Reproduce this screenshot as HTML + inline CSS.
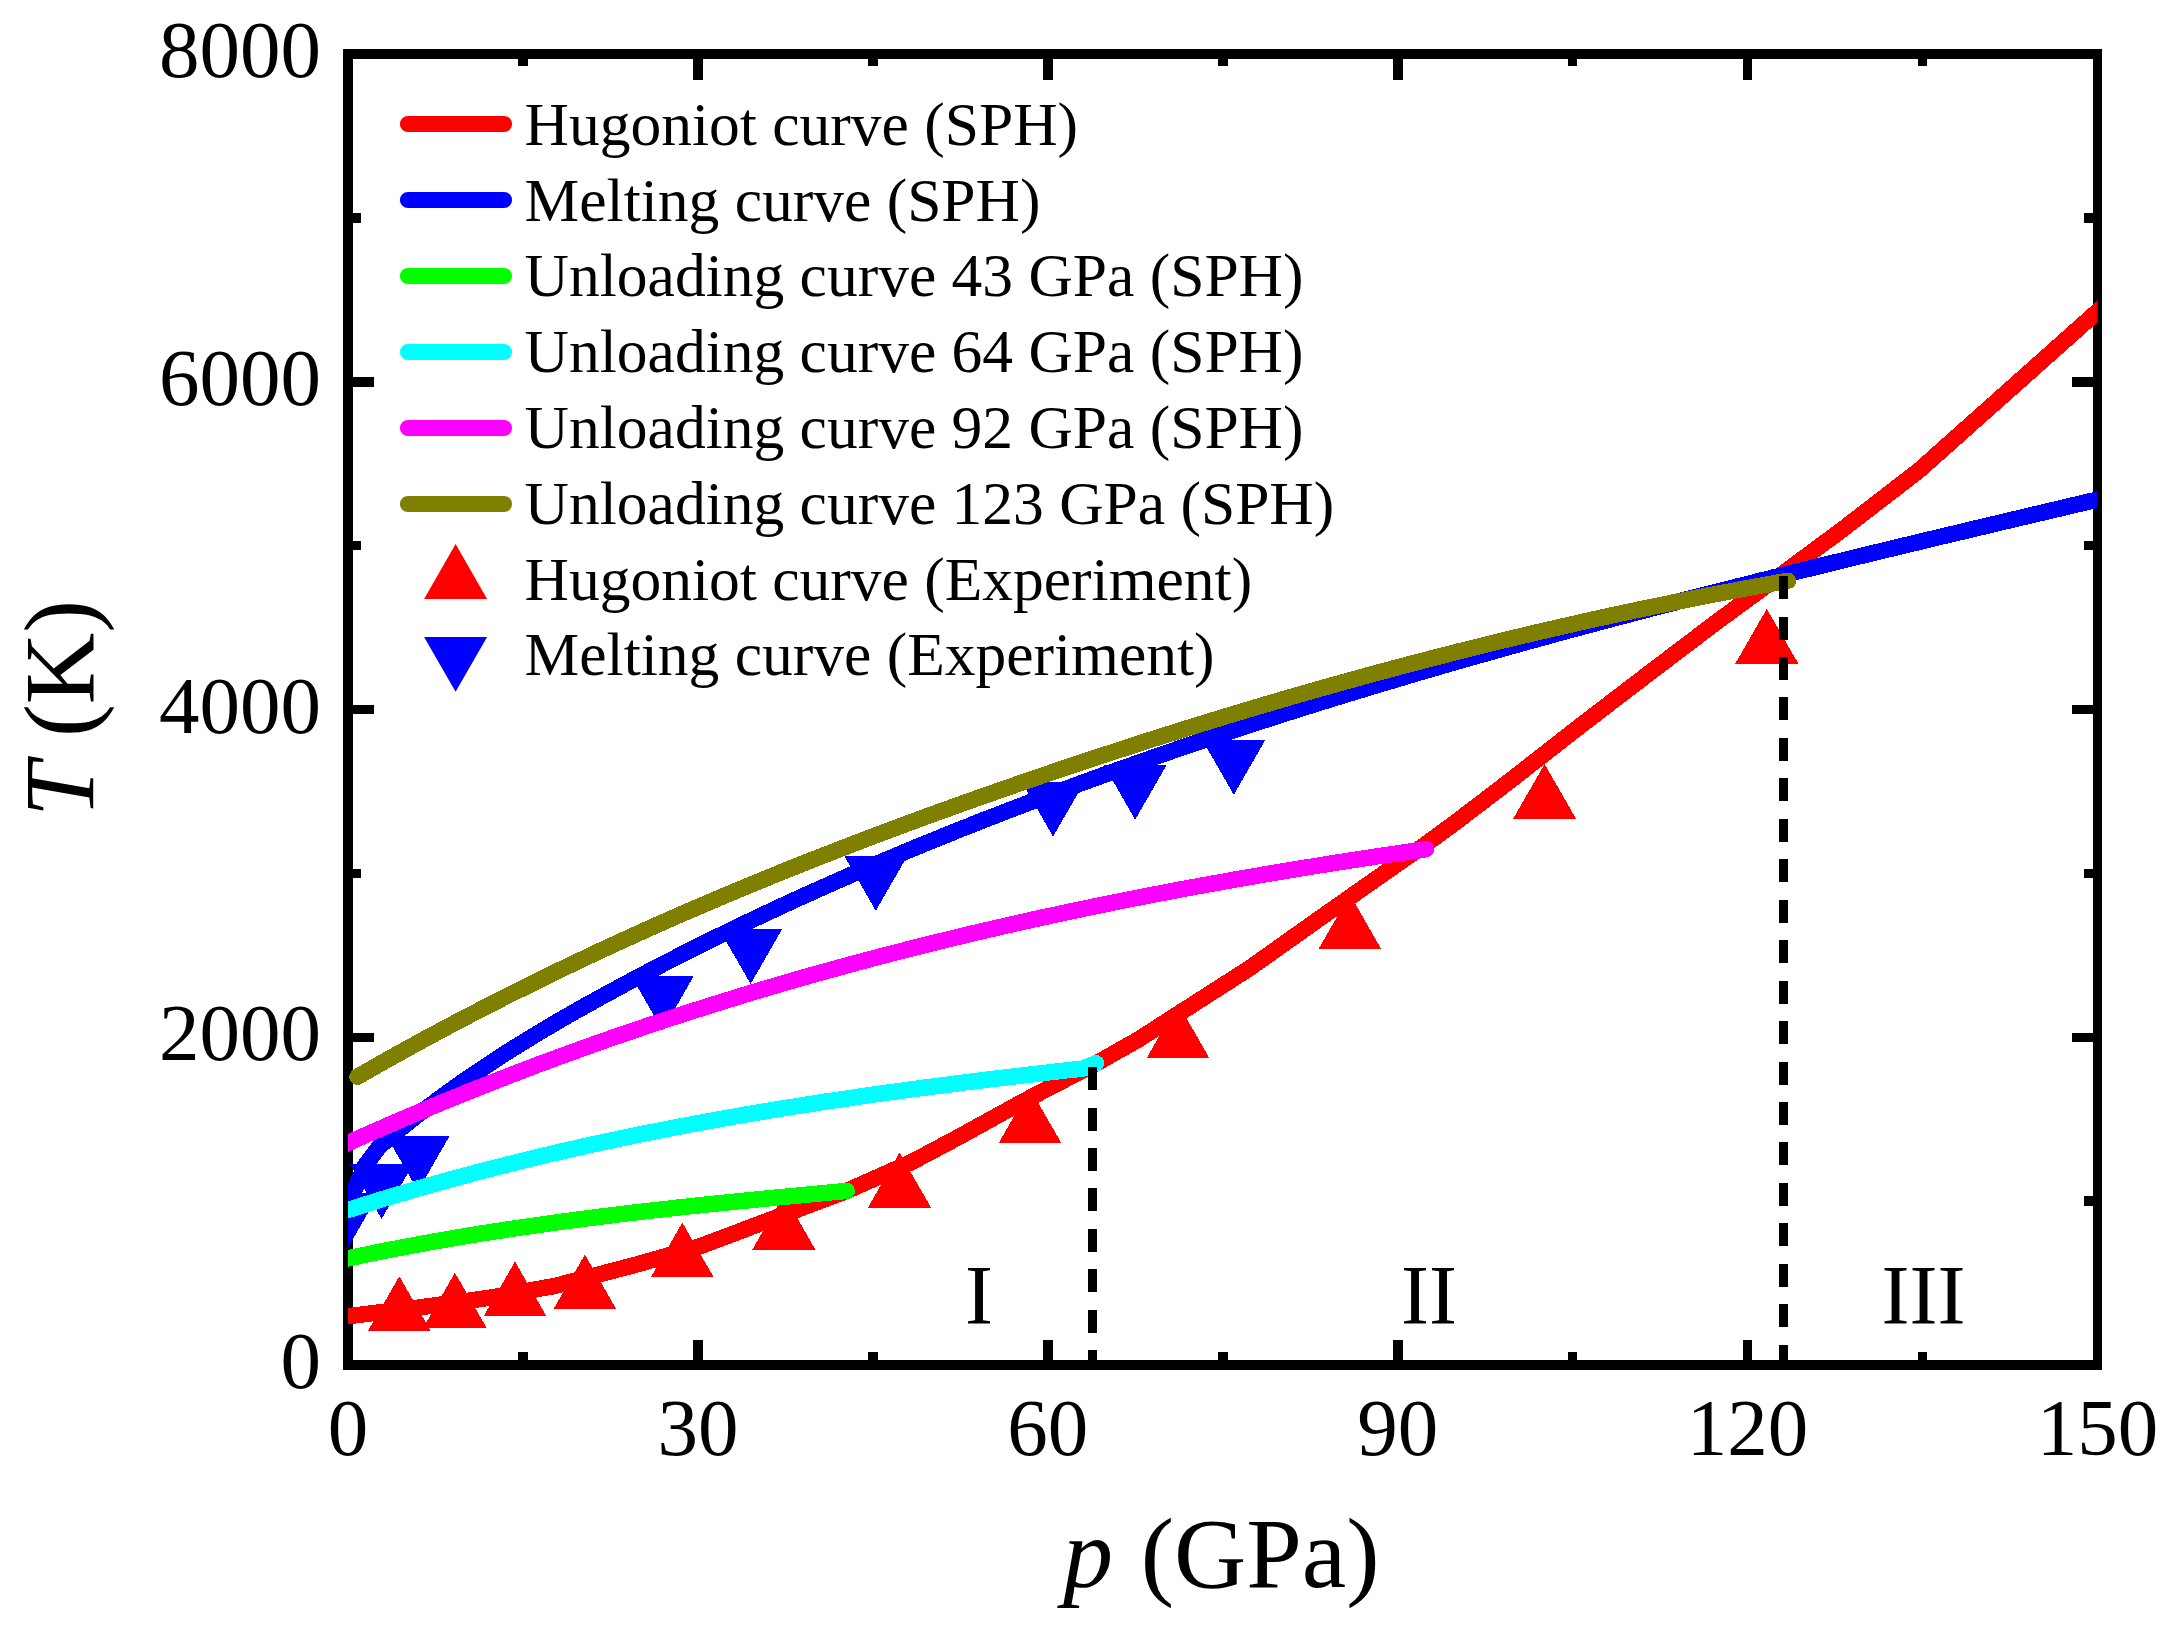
<!DOCTYPE html>
<html lang="en">
<head>
<meta charset="utf-8">
<title>Hugoniot, melting and unloading curves</title>
<style>
html,body{margin:0;padding:0;background:#fff;}
body{width:2171px;height:1630px;overflow:hidden;}
svg{display:block;}
text{font-family:"Liberation Serif",serif;fill:#000;}
.tick{font-size:81px;}
.leg{font-size:61.5px;}
.ttl{font-size:100px;}
.reg{font-size:84px;}
.crv{fill:none;stroke-width:16.4;stroke-linejoin:round;}
</style>
</head>
<body>
<svg width="2171" height="1630" viewBox="0 0 2171 1630">
<rect x="0" y="0" width="2171" height="1630" fill="#fff"/>
<defs><clipPath id="plot"><rect x="348.0" y="54.0" width="1749.5" height="1311.0"/></clipPath></defs>

<g id="axes" fill="#000" shape-rendering="crispEdges">
<rect x="343.0" y="49.0" width="1759.1999999999998" height="10"/>
<rect x="343.0" y="1360.0" width="1759.1999999999998" height="10"/>
<rect x="343.0" y="49.0" width="10" height="1321.0"/>
<rect x="2093.0" y="49.0" width="9.2" height="1321.0"/>
<rect x="518.2" y="1352.0" width="9.5" height="8.5"/>
<rect x="518.2" y="58.0" width="9.5" height="8.0"/>
<rect x="693.1" y="1339.5" width="9.5" height="22.0"/>
<rect x="693.1" y="58.0" width="9.5" height="22.0"/>
<rect x="868.1" y="1352.0" width="9.5" height="8.5"/>
<rect x="868.1" y="58.0" width="9.5" height="8.0"/>
<rect x="1043.0" y="1339.5" width="9.5" height="22.0"/>
<rect x="1043.0" y="58.0" width="9.5" height="22.0"/>
<rect x="1218.0" y="1352.0" width="9.5" height="8.5"/>
<rect x="1218.0" y="58.0" width="9.5" height="8.0"/>
<rect x="1393.0" y="1339.5" width="9.5" height="22.0"/>
<rect x="1393.0" y="58.0" width="9.5" height="22.0"/>
<rect x="1567.9" y="1352.0" width="9.5" height="8.5"/>
<rect x="1567.9" y="58.0" width="9.5" height="8.0"/>
<rect x="1742.8" y="1339.5" width="9.5" height="22.0"/>
<rect x="1742.8" y="58.0" width="9.5" height="22.0"/>
<rect x="1917.8" y="1352.0" width="9.5" height="8.5"/>
<rect x="1917.8" y="58.0" width="9.5" height="8.0"/>
<rect x="352.0" y="1196.4" width="8.5" height="9.5"/>
<rect x="2084.0" y="1196.4" width="10.0" height="9.5"/>
<rect x="352.0" y="1032.5" width="22.0" height="9.5"/>
<rect x="2072.0" y="1032.5" width="22.0" height="9.5"/>
<rect x="352.0" y="868.6" width="8.5" height="9.5"/>
<rect x="2084.0" y="868.6" width="10.0" height="9.5"/>
<rect x="352.0" y="704.8" width="22.0" height="9.5"/>
<rect x="2072.0" y="704.8" width="22.0" height="9.5"/>
<rect x="352.0" y="540.9" width="8.5" height="9.5"/>
<rect x="2084.0" y="540.9" width="10.0" height="9.5"/>
<rect x="352.0" y="377.0" width="22.0" height="9.5"/>
<rect x="2072.0" y="377.0" width="22.0" height="9.5"/>
<rect x="352.0" y="213.1" width="8.5" height="9.5"/>
<rect x="2084.0" y="213.1" width="10.0" height="9.5"/>
</g>
<g id="ticklabels" class="tick">
<text x="348.0" y="1455.2" text-anchor="middle">0</text>
<text x="697.9" y="1455.2" text-anchor="middle">30</text>
<text x="1047.8" y="1455.2" text-anchor="middle">60</text>
<text x="1397.7" y="1455.2" text-anchor="middle">90</text>
<text x="1747.6" y="1455.2" text-anchor="middle">120</text>
<text x="2097.5" y="1455.2" text-anchor="middle">150</text>
<text x="321" y="1388.0" text-anchor="end">0</text>
<text x="321" y="1060.2" text-anchor="end">2000</text>
<text x="321" y="732.5" text-anchor="end">4000</text>
<text x="321" y="404.8" text-anchor="end">6000</text>
<text x="321" y="77.0" text-anchor="end">8000</text>
</g>
<text class="ttl" x="1221.3" y="1587.3" text-anchor="middle"><tspan font-style="italic">p</tspan><tspan dx="2.6"> (GPa)</tspan></text>
<text class="ttl" style="font-size:99px" transform="translate(93.0,708.3) rotate(-90)" text-anchor="middle"><tspan font-style="italic">T</tspan> (K)</text>
<g id="data" clip-path="url(#plot)" shape-rendering="crispEdges">
<path class="crv" stroke="#f00" d="M334.0,1317.9 L348.0,1316.2 L422.9,1307.0 L489.3,1297.8 L555.6,1285.8 L638.5,1264.0 L700.0,1246.3 L846.8,1190.9 L912.1,1161.8 L958.2,1137.3 L1015.0,1106.0 L1040.5,1092.3 L1096.0,1063.5 L1138.2,1039.6 L1249.1,968.5 L1318.2,919.5 L1387.3,871.0 L1426.0,844.0 L1456.4,821.7 L1509.1,781.5 L1578.2,727.5 L1647.3,674.6 L1716.4,622.2 L1782.9,573.5 L1841.7,530.0 L1918.8,470.6 L2097.5,311.4 L2111.5,298.9"/>
<path class="crv" stroke="#00f" d="M340.0,1223.5 L348.0,1205.0 L364.8,1166.1 L379.5,1146.4 L386.1,1140.7 L392.8,1135.2 L399.4,1129.7 L406.0,1124.3 L412.7,1119.0 L419.3,1113.8 L425.9,1108.7 L432.6,1103.7 L439.2,1098.7 L445.8,1093.9 L452.5,1089.1 L459.1,1084.4 L465.7,1079.8 L472.4,1075.2 L479.0,1070.7 L485.6,1066.3 L492.3,1061.9 L498.9,1057.6 L505.5,1053.3 L512.2,1049.1 L518.8,1045.0 L525.4,1040.9 L532.1,1036.8 L538.7,1032.8 L545.3,1028.8 L552.0,1024.9 L558.6,1021.0 L565.2,1017.2 L571.9,1013.4 L578.5,1009.6 L585.1,1005.9 L591.8,1002.2 L598.4,998.5 L605.0,994.9 L611.7,991.3 L618.3,987.7 L624.9,984.1 L631.6,980.6 L638.2,977.1 L644.8,973.6 L651.5,970.1 L658.1,966.6 L664.7,963.2 L671.4,959.8 L678.0,956.4 L684.6,953.0 L691.3,949.7 L697.9,946.4 L704.5,943.1 L711.2,939.8 L717.8,936.5 L724.4,933.3 L731.1,930.0 L737.7,926.8 L744.3,923.6 L751.0,920.5 L757.6,917.3 L764.2,914.2 L770.9,911.1 L777.5,908.0 L784.1,904.9 L790.8,901.9 L797.4,898.8 L804.0,895.8 L810.7,892.8 L817.3,889.8 L823.9,886.9 L830.6,883.9 L837.2,881.0 L843.8,878.1 L850.5,875.1 L857.1,872.3 L863.7,869.4 L870.4,866.5 L877.0,863.7 L883.6,860.9 L890.3,858.1 L896.9,855.3 L903.5,852.5 L910.2,849.8 L916.8,847.0 L923.4,844.3 L930.1,841.6 L936.7,838.9 L943.3,836.2 L950.0,833.5 L956.6,830.8 L963.2,828.2 L969.9,825.6 L976.5,822.9 L983.1,820.3 L989.8,817.7 L996.4,815.2 L1003.0,812.6 L1009.7,810.0 L1016.3,807.5 L1022.9,805.0 L1029.6,802.4 L1036.2,799.9 L1042.8,797.4 L1049.5,794.9 L1056.1,792.5 L1062.7,790.0 L1069.4,787.6 L1076.0,785.1 L1082.6,782.7 L1089.3,780.3 L1095.9,777.9 L1102.5,775.5 L1109.2,773.1 L1115.8,770.7 L1122.4,768.4 L1129.1,766.0 L1135.7,763.7 L1142.3,761.3 L1149.0,759.0 L1155.6,756.7 L1162.2,754.4 L1168.9,752.1 L1175.5,749.8 L1182.1,747.6 L1188.8,745.3 L1195.4,743.1 L1202.0,740.8 L1208.7,738.6 L1215.3,736.4 L1221.9,734.2 L1228.6,732.0 L1235.2,729.8 L1241.8,727.6 L1248.4,725.4 L1255.1,723.3 L1261.7,721.1 L1268.3,719.0 L1275.0,716.9 L1281.6,714.7 L1288.2,712.6 L1294.9,710.5 L1301.5,708.4 L1308.1,706.3 L1314.8,704.3 L1321.4,702.2 L1328.0,700.1 L1334.7,698.1 L1341.3,696.0 L1347.9,694.0 L1354.6,692.0 L1361.2,690.0 L1367.8,687.9 L1374.5,685.9 L1381.1,683.9 L1387.7,682.0 L1394.4,680.0 L1401.0,678.0 L1407.6,676.0 L1414.3,674.1 L1420.9,672.1 L1427.5,670.2 L1434.2,668.3 L1440.8,666.3 L1447.4,664.4 L1454.1,662.5 L1460.7,660.6 L1467.3,658.7 L1474.0,656.8 L1480.6,654.9 L1487.2,653.1 L1493.9,651.2 L1500.5,649.3 L1507.1,647.5 L1513.8,645.6 L1520.4,643.8 L1527.0,641.9 L1533.7,640.1 L1540.3,638.3 L1546.9,636.5 L1553.6,634.6 L1560.2,632.8 L1566.8,631.0 L1573.5,629.2 L1580.1,627.4 L1586.7,625.7 L1593.4,623.9 L1600.0,622.1 L1606.6,620.3 L1613.3,618.6 L1619.9,616.8 L1626.5,615.1 L1633.2,613.3 L1639.8,611.6 L1646.4,609.9 L1653.1,608.1 L1659.7,606.4 L1666.3,604.7 L1673.0,603.0 L1679.6,601.2 L1686.2,599.5 L1692.9,597.8 L1699.5,596.1 L1706.1,594.4 L1712.8,592.8 L1719.4,591.1 L1726.0,589.4 L1732.7,587.7 L1739.3,586.0 L1745.9,584.4 L1752.6,582.7 L1759.2,581.0 L1765.8,579.4 L1772.5,577.7 L1779.1,576.1 L1785.7,574.4 L1792.4,572.8 L1799.0,571.1 L1805.6,569.5 L1812.3,567.9 L1818.9,566.2 L1825.5,564.6 L1832.2,563.0 L1838.8,561.4 L1845.4,559.8 L1852.1,558.1 L1858.7,556.5 L1865.3,554.9 L1872.0,553.3 L1878.6,551.7 L1885.2,550.1 L1891.9,548.5 L1898.5,546.9 L1905.1,545.3 L1911.8,543.7 L1918.4,542.1 L1925.0,540.5 L1931.7,538.9 L1938.3,537.3 L1944.9,535.7 L1951.6,534.2 L1958.2,532.6 L1964.8,531.0 L1971.5,529.4 L1978.1,527.8 L1984.7,526.3 L1991.4,524.7 L1998.0,523.1 L2004.6,521.5 L2011.3,520.0 L2017.9,518.4 L2024.5,516.8 L2031.2,515.2 L2037.8,513.7 L2044.4,512.1 L2051.1,510.5 L2057.7,509.0 L2064.3,507.4 L2071.0,505.8 L2077.6,504.3 L2084.2,502.7 L2090.9,501.1 L2097.5,499.6 L2111.5,496.2"/>
<g fill="#f00">
<path d="M367.8,1331.2 L430.8,1331.2 L399.3,1276.4 Z"/>
<path d="M423.4,1327.5 L486.4,1327.5 L454.9,1272.7 Z"/>
<path d="M483.5,1316.4 L546.5,1316.4 L515.0,1261.6 Z"/>
<path d="M553.4,1309.3 L616.4,1309.3 L584.9,1254.5 Z"/>
<path d="M650.8,1277.4 L713.8,1277.4 L682.3,1222.6 Z"/>
<path d="M752.4,1249.6 L815.4,1249.6 L783.9,1194.8 Z"/>
<path d="M868.0,1207.5 L931.0,1207.5 L899.5,1152.7 Z"/>
<path d="M998.5,1143.4 L1061.5,1143.4 L1030.0,1088.6 Z"/>
<path d="M1146.5,1058.3 L1209.5,1058.3 L1178.0,1003.5 Z"/>
<path d="M1318.4,949.3 L1381.4,949.3 L1349.9,894.5 Z"/>
<path d="M1513.1,818.8 L1576.1,818.8 L1544.6,764.0 Z"/>
<path d="M1735.3,663.6 L1798.3,663.6 L1766.8,608.8 Z"/>
</g><g fill="#00f">
<path d="M316.5,1192.9 L379.5,1192.9 L348.0,1247.7 Z"/>
<path d="M350.1,1164.1 L413.1,1164.1 L381.6,1218.9 Z"/>
<path d="M386.5,1136.1 L449.5,1136.1 L418.0,1190.9 Z"/>
<path d="M631.0,975.6 L694.0,975.6 L662.5,1030.4 Z"/>
<path d="M719.1,929.2 L782.1,929.2 L750.6,984.0 Z"/>
<path d="M844.3,856.0 L907.3,856.0 L875.8,910.8 Z"/>
<path d="M1021.6,781.8 L1084.6,781.8 L1053.1,836.6 Z"/>
<path d="M1103.7,764.9 L1166.7,764.9 L1135.2,819.7 Z"/>
<path d="M1202.3,740.0 L1265.3,740.0 L1233.8,794.8 Z"/>
</g>
<path class="crv" stroke="#0f0" stroke-linecap="round" d="M334.0,1261.4 L348.0,1258.4 L356.5,1256.6 L364.9,1254.8 L373.4,1253.1 L381.8,1251.4 L390.3,1249.7 L398.7,1248.1 L407.2,1246.5 L415.6,1244.9 L424.1,1243.3 L432.5,1241.8 L441.0,1240.3 L449.5,1238.9 L457.9,1237.4 L466.4,1236.0 L474.8,1234.6 L483.3,1233.2 L491.7,1231.9 L500.2,1230.6 L508.6,1229.3 L517.1,1228.0 L525.5,1226.8 L534.0,1225.6 L542.4,1224.4 L550.9,1223.2 L559.4,1222.0 L567.8,1220.9 L576.3,1219.8 L584.7,1218.7 L593.2,1217.6 L601.6,1216.5 L610.1,1215.5 L618.5,1214.4 L627.0,1213.4 L635.4,1212.4 L643.9,1211.4 L652.4,1210.5 L660.8,1209.5 L669.3,1208.6 L677.7,1207.6 L686.2,1206.7 L694.6,1205.8 L703.1,1204.9 L711.5,1204.0 L720.0,1203.2 L728.4,1202.3 L736.9,1201.4 L745.3,1200.6 L753.8,1199.8 L762.3,1198.9 L770.7,1198.1 L779.2,1197.3 L787.6,1196.5 L796.1,1195.7 L804.5,1194.9 L813.0,1194.1 L821.4,1193.3 L829.9,1192.5 L838.3,1191.7 L846.8,1190.9"/>
<path class="crv" stroke="#0ff" stroke-linecap="round" d="M334.0,1214.4 L348.0,1210.0 L357.3,1207.0 L366.6,1204.1 L375.9,1201.2 L385.2,1198.3 L394.5,1195.5 L403.8,1192.8 L413.1,1190.0 L422.4,1187.3 L431.7,1184.7 L441.0,1182.1 L450.3,1179.5 L459.6,1177.0 L468.9,1174.5 L478.2,1172.0 L487.5,1169.6 L496.8,1167.2 L506.1,1164.8 L515.4,1162.5 L524.7,1160.2 L534.1,1157.9 L543.4,1155.7 L552.7,1153.5 L562.0,1151.3 L571.3,1149.2 L580.6,1147.1 L589.9,1145.0 L599.2,1143.0 L608.5,1141.0 L617.8,1139.0 L627.1,1137.1 L636.4,1135.1 L645.7,1133.2 L655.0,1131.4 L664.3,1129.6 L673.6,1127.7 L682.9,1126.0 L692.2,1124.2 L701.5,1122.5 L710.8,1120.8 L720.1,1119.1 L729.4,1117.4 L738.7,1115.8 L748.0,1114.2 L757.3,1112.6 L766.6,1111.0 L775.9,1109.5 L785.2,1108.0 L794.5,1106.5 L803.8,1105.0 L813.1,1103.6 L822.4,1102.1 L831.7,1100.7 L841.0,1099.3 L850.3,1098.0 L859.6,1096.6 L868.9,1095.3 L878.2,1093.9 L887.5,1092.6 L896.8,1091.4 L906.2,1090.1 L915.5,1088.8 L924.8,1087.6 L934.1,1086.4 L943.4,1085.2 L952.7,1084.0 L962.0,1082.8 L971.3,1081.6 L980.6,1080.5 L989.9,1079.3 L999.2,1078.2 L1008.5,1077.1 L1017.8,1076.0 L1027.1,1074.9 L1036.4,1073.8 L1045.7,1072.8 L1055.0,1071.7 L1064.3,1070.6 L1073.6,1069.6 L1082.9,1068.6 L1096.0,1063.2"/>
<path class="crv" stroke="#f0f" stroke-linecap="round" d="M334.0,1149.3 L348.0,1143.0 L357.1,1138.9 L366.1,1134.9 L375.2,1130.9 L384.2,1127.0 L393.3,1123.0 L402.4,1119.1 L411.4,1115.3 L420.5,1111.5 L429.5,1107.7 L438.6,1103.9 L447.6,1100.2 L456.7,1096.5 L465.8,1092.8 L474.8,1089.2 L483.9,1085.6 L492.9,1082.0 L502.0,1078.5 L511.1,1075.0 L520.1,1071.5 L529.2,1068.1 L538.2,1064.6 L547.3,1061.3 L556.4,1057.9 L565.4,1054.6 L574.5,1051.3 L583.5,1048.0 L592.6,1044.8 L601.6,1041.6 L610.7,1038.4 L619.8,1035.3 L628.8,1032.2 L637.9,1029.1 L646.9,1026.0 L656.0,1023.0 L665.1,1020.0 L674.1,1017.0 L683.2,1014.1 L692.2,1011.2 L701.3,1008.3 L710.4,1005.4 L719.4,1002.6 L728.5,999.8 L737.5,997.0 L746.6,994.2 L755.6,991.5 L764.7,988.8 L773.8,986.1 L782.8,983.4 L791.9,980.8 L800.9,978.2 L810.0,975.6 L819.1,973.1 L828.1,970.6 L837.2,968.1 L846.2,965.6 L855.3,963.1 L864.4,960.7 L873.4,958.3 L882.5,955.9 L891.5,953.5 L900.6,951.2 L909.6,948.9 L918.7,946.6 L927.8,944.3 L936.8,942.1 L945.9,939.9 L954.9,937.7 L964.0,935.5 L973.1,933.3 L982.1,931.2 L991.2,929.1 L1000.2,927.0 L1009.3,924.9 L1018.4,922.9 L1027.4,920.8 L1036.5,918.8 L1045.5,916.8 L1054.6,914.9 L1063.6,912.9 L1072.7,911.0 L1081.8,909.1 L1090.8,907.2 L1099.9,905.3 L1108.9,903.5 L1118.0,901.6 L1127.1,899.8 L1136.1,898.0 L1145.2,896.3 L1154.2,894.5 L1163.3,892.8 L1172.4,891.0 L1181.4,889.3 L1190.5,887.6 L1199.5,886.0 L1208.6,884.3 L1217.6,882.7 L1226.7,881.1 L1235.8,879.4 L1244.8,877.9 L1253.9,876.3 L1262.9,874.7 L1272.0,873.2 L1281.1,871.7 L1290.1,870.2 L1299.2,868.7 L1308.2,867.2 L1317.3,865.7 L1326.4,864.3 L1335.4,862.8 L1344.5,861.4 L1353.5,860.0 L1362.6,858.6 L1371.6,857.2 L1380.7,855.9 L1389.8,854.5 L1398.8,853.2 L1407.9,851.8 L1416.9,850.5 L1426.0,849.2"/>
<path class="crv" stroke="#808000" stroke-linecap="round" d="M357.5,1076.7 L367.8,1070.8 L378.1,1064.9 L388.4,1059.1 L398.7,1053.4 L409.0,1047.7 L419.2,1042.1 L429.5,1036.5 L439.8,1031.0 L450.1,1025.5 L460.4,1020.1 L470.7,1014.7 L481.0,1009.4 L491.3,1004.1 L501.6,998.8 L511.9,993.6 L522.2,988.5 L532.5,983.4 L542.7,978.3 L553.0,973.3 L563.3,968.3 L573.6,963.4 L583.9,958.5 L594.2,953.6 L604.5,948.8 L614.8,944.1 L625.1,939.4 L635.4,934.7 L645.7,930.0 L655.9,925.4 L666.2,920.9 L676.5,916.3 L686.8,911.8 L697.1,907.4 L707.4,903.0 L717.7,898.6 L728.0,894.2 L738.3,889.9 L748.6,885.6 L758.9,881.4 L769.2,877.2 L779.4,873.0 L789.7,868.8 L800.0,864.7 L810.3,860.6 L820.6,856.6 L830.9,852.6 L841.2,848.6 L851.5,844.6 L861.8,840.7 L872.1,836.7 L882.4,832.9 L892.7,829.0 L902.9,825.2 L913.2,821.4 L923.5,817.6 L933.8,813.8 L944.1,810.1 L954.4,806.4 L964.7,802.7 L975.0,799.0 L985.3,795.4 L995.6,791.8 L1005.9,788.2 L1016.1,784.6 L1026.4,781.1 L1036.7,777.5 L1047.0,774.0 L1057.3,770.5 L1067.6,767.0 L1077.9,763.6 L1088.2,760.2 L1098.5,756.7 L1108.8,753.4 L1119.1,750.0 L1129.4,746.6 L1139.6,743.3 L1149.9,740.0 L1160.2,736.7 L1170.5,733.5 L1180.8,730.3 L1191.1,727.0 L1201.4,723.8 L1211.7,720.7 L1222.0,717.5 L1232.3,714.4 L1242.6,711.3 L1252.8,708.2 L1263.1,705.2 L1273.4,702.1 L1283.7,699.1 L1294.0,696.1 L1304.3,693.2 L1314.6,690.2 L1324.9,687.3 L1335.2,684.4 L1345.5,681.5 L1355.8,678.7 L1366.1,675.8 L1376.3,673.0 L1386.6,670.3 L1396.9,667.5 L1407.2,664.8 L1417.5,662.1 L1427.8,659.4 L1438.1,656.7 L1448.4,654.1 L1458.7,651.4 L1469.0,648.9 L1479.3,646.3 L1489.6,643.7 L1499.8,641.2 L1510.1,638.7 L1520.4,636.3 L1530.7,633.8 L1541.0,631.4 L1551.3,629.0 L1561.6,626.6 L1571.9,624.3 L1582.2,621.9 L1592.5,619.6 L1602.8,617.4 L1613.0,615.1 L1623.3,612.9 L1633.6,610.7 L1643.9,608.5 L1654.2,606.4 L1664.5,604.3 L1674.8,602.2 L1685.1,600.1 L1695.4,598.0 L1705.7,596.0 L1716.0,594.0 L1726.3,592.1 L1736.5,590.1 L1746.8,588.2 L1757.1,586.3 L1767.4,584.4 L1777.7,582.6 L1788.0,580.8"/>
<path fill="none" stroke="#000" stroke-width="9" stroke-dasharray="23 17.35" d="M1092.5,1067.4 V1365"/>
<path fill="none" stroke="#000" stroke-width="8.8" stroke-dasharray="23 17.45" d="M1783.6,576.1 V1365"/>
</g>
<g id="regions" class="reg" text-anchor="middle">
<text x="979" y="1323.5">I</text>
<text x="1429" y="1323.5">II</text>
<text x="1923.5" y="1323.5">III</text>
</g>
<g id="legend">
<path d="M408,124.0 H504" fill="none" stroke="#f00" stroke-width="16.2" stroke-linecap="round"/>
<text class="leg" x="524.6" y="144.7">Hugoniot curve (SPH)</text>
<path d="M408,200.0 H504" fill="none" stroke="#00f" stroke-width="16.2" stroke-linecap="round"/>
<text class="leg" x="524.6" y="220.5">Melting curve (SPH)</text>
<path d="M408,276.0 H504" fill="none" stroke="#0f0" stroke-width="16.2" stroke-linecap="round"/>
<text class="leg" x="524.6" y="296.3">Unloading curve 43 GPa (SPH)</text>
<path d="M408,352.0 H504" fill="none" stroke="#0ff" stroke-width="16.2" stroke-linecap="round"/>
<text class="leg" x="524.6" y="372.1">Unloading curve 64 GPa (SPH)</text>
<path d="M408,428.0 H504" fill="none" stroke="#f0f" stroke-width="16.2" stroke-linecap="round"/>
<text class="leg" x="524.6" y="447.9">Unloading curve 92 GPa (SPH)</text>
<path d="M408,504.0 H504" fill="none" stroke="#808000" stroke-width="16.2" stroke-linecap="round"/>
<text class="leg" x="524.6" y="523.7">Unloading curve 123 GPa (SPH)</text>
<path fill="#f00" d="M424.1,598.9 L487.1,598.9 L455.6,544.1 Z"/>
<text class="leg" x="524.6" y="599.5">Hugoniot curve (Experiment)</text>
<path fill="#00f" d="M424.1,637 L487.1,637 L455.6,691.8 Z"/>
<text class="leg" x="524.6" y="675.3">Melting curve (Experiment)</text>
</g>
</svg>
</body>
</html>
